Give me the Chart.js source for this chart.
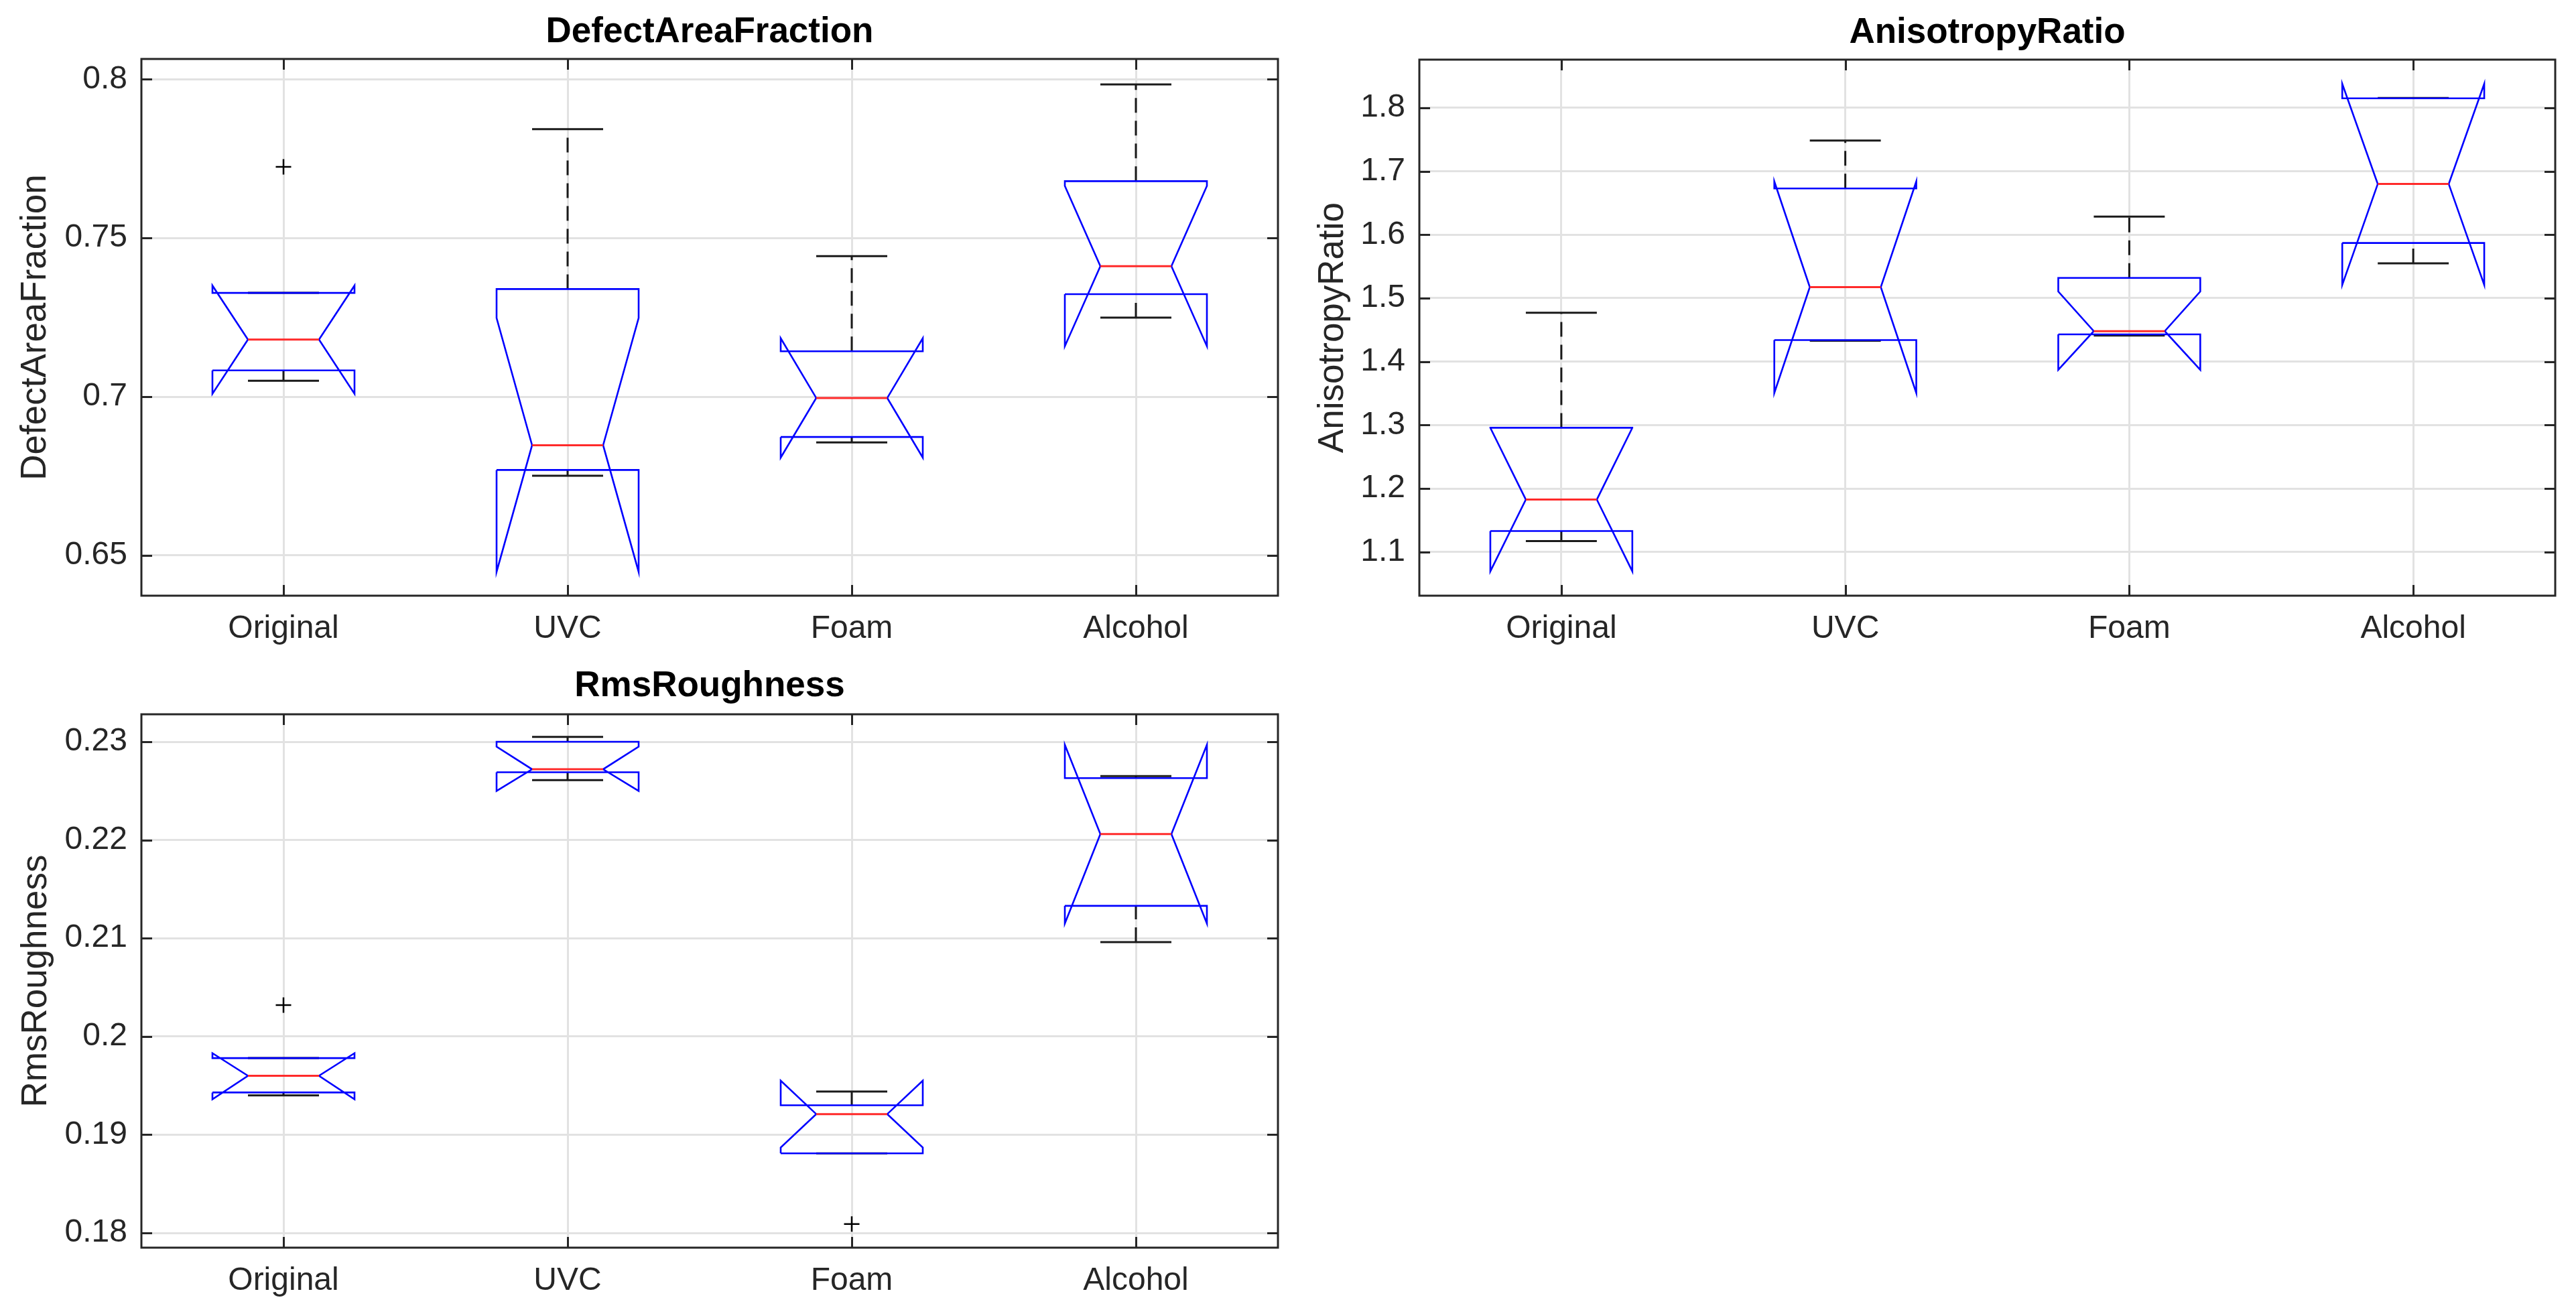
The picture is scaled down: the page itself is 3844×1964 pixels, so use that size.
<!DOCTYPE html>
<html>
<head>
<meta charset="utf-8">
<title>Surface metrics - notched boxplots</title>
<script src="https://cdn.jsdelivr.net/npm/chart.js@4.4.1/dist/chart.umd.min.js"></script>
<style>
    html, body { margin: 0; padding: 0; background: #ffffff; }
    body { width: 3844px; height: 1964px; position: relative; overflow: hidden; }
    .panel { position: absolute; }
    .panel canvas { display: block; }
</style>
</head>
<body>
<div class="panel" style="left:0px; top:0px;"><canvas id="chart-defect" width="1960" height="982"></canvas></div>
<div class="panel" style="left:1930px; top:0px;"><canvas id="chart-aniso" width="1914" height="982"></canvas></div>
<div class="panel" style="left:0px; top:982px;"><canvas id="chart-rms" width="1960" height="982"></canvas></div>

<script>
// boxplots.js

const groups = ["Original", "UVC", "Foam", "Alcohol"];

// DefectAreaFraction
const defectLowerWhisker = [0.7050, 0.6751, 0.6856, 0.7249];
const defectQ1 = [0.7083, 0.6769, 0.6873, 0.7323];
const defectMedian = [0.7180, 0.6847, 0.6996, 0.7411];
const defectQ3 = [0.7327, 0.7339, 0.7143, 0.7679];
const defectUpperWhisker = [0.7327, 0.7843, 0.7443, 0.7984];
const defectNotchLow = [0.7009, 0.6448, 0.6808, 0.7159];
const defectNotchHigh = [0.7350, 0.7248, 0.7184, 0.7664];
const defectOutliers = [[0.7724], [], [], []];
const defectTicks = [0.65, 0.7, 0.75, 0.8];

// AnisotropyRatio
const anisoLowerWhisker = [1.117, 1.433, 1.441, 1.555];
const anisoQ1 = [1.133, 1.434, 1.443, 1.587];
const anisoMedian = [1.1825, 1.5174, 1.448, 1.680];
const anisoQ3 = [1.2957, 1.673, 1.532, 1.815];
const anisoUpperWhisker = [1.477, 1.7484, 1.6286, 1.8155];
const anisoNotchLow = [1.0694, 1.3506, 1.387, 1.521];
const anisoNotchHigh = [1.2956, 1.684, 1.5105, 1.838];
const anisoOutliers = [[], [], [], []];
const anisoTicks = [1.1, 1.2, 1.3, 1.4, 1.5, 1.6, 1.7, 1.8];

// RmsRoughness
const rmsLowerWhisker = [0.1940, 0.2261, 0.1881, 0.2096];
const rmsQ1 = [0.1943, 0.2269, 0.1881, 0.2133];
const rmsMedian = [0.1960, 0.2272, 0.1921, 0.2206];
const rmsQ3 = [0.1978, 0.2300, 0.1930, 0.2263];
const rmsUpperWhisker = [0.1978, 0.2305, 0.1944, 0.2265];
const rmsNotchLow = [0.1936, 0.2250, 0.1887, 0.2115];
const rmsNotchHigh = [0.1983, 0.2295, 0.1955, 0.2297];
const rmsOutliers = [[0.2032], [], [0.1809], []];
const rmsTicks = [0.18, 0.19, 0.2, 0.21, 0.22, 0.23];


const BOX_HALF = 0.25;
const NOTCH_HALF = 0.125;
const TICK_LEN = 16;
const AXIS_COLOR = '#262626';

Chart.defaults.font.family = "'Liberation Sans', Arial, Helvetica, sans-serif";
Chart.defaults.color = AXIS_COLOR;


// MATLAB-like frame with inward tick marks on all four sides
const axesFrame = {
    id: 'axesFrame',
    afterDraw(chart) {
        const ctx = chart.ctx;
        const a = chart.chartArea;
        const x = chart.scales.x;
        const y = chart.scales.y;
        ctx.save();
        ctx.strokeStyle = AXIS_COLOR;
        ctx.lineWidth = 3;
        ctx.beginPath();
        x.ticks.forEach(t => {
            const px = Math.round(x.getPixelForValue(t.value)) + 0.5;
            ctx.moveTo(px, a.bottom);
            ctx.lineTo(px, a.bottom - TICK_LEN);
            ctx.moveTo(px, a.top);
            ctx.lineTo(px, a.top + TICK_LEN);
        });
        y.ticks.forEach(t => {
            const py = Math.round(y.getPixelForValue(t.value)) + 0.5;
            ctx.moveTo(a.left, py);
            ctx.lineTo(a.left + TICK_LEN, py);
            ctx.moveTo(a.right, py);
            ctx.lineTo(a.right - TICK_LEN, py);
        });
        ctx.stroke();
        ctx.strokeRect(a.left, a.top, a.right - a.left, a.bottom - a.top);
        ctx.restore();
    }
};


function buildBoxDatasets(s) {
    const boxPts = [];
    const medianPts = [];
    const whiskerPts = [];
    const capPts = [];
    const outlierPts = [];

    groups.forEach((g, i) => {
        const c = i + 1;
        const L = c - BOX_HALF;
        const R = c + BOX_HALF;
        const l = c - NOTCH_HALF;
        const r = c + NOTCH_HALF;

        // notched box outline, same path order as MATLAB
        boxPts.push(
            {x: L, y: s.q1[i]}, {x: L, y: s.notchLow[i]}, {x: l, y: s.median[i]},
            {x: L, y: s.notchHigh[i]}, {x: L, y: s.q3[i]}, {x: R, y: s.q3[i]},
            {x: R, y: s.notchHigh[i]}, {x: r, y: s.median[i]}, {x: R, y: s.notchLow[i]},
            {x: R, y: s.q1[i]}, {x: L, y: s.q1[i]}, {x: c, y: null}
        );

        medianPts.push({x: l, y: s.median[i]}, {x: r, y: s.median[i]}, {x: c, y: null});

        whiskerPts.push(
            {x: c, y: s.q3[i]}, {x: c, y: s.upper[i]}, {x: c, y: null},
            {x: c, y: s.lower[i]}, {x: c, y: s.q1[i]}, {x: c, y: null}
        );

        capPts.push(
            {x: l, y: s.upper[i]}, {x: r, y: s.upper[i]}, {x: c, y: null},
            {x: l, y: s.lower[i]}, {x: r, y: s.lower[i]}, {x: c, y: null}
        );

        s.outliers[i].forEach(v => outlierPts.push({x: c, y: v}));
    });

    const lineBase = {
        showLine: true,
        spanGaps: false,
        pointRadius: 0,
        pointHitRadius: 0,
        tension: 0,
        fill: false
    };

    return [
        Object.assign({}, lineBase, {
            label: 'Whiskers', data: whiskerPts, borderColor: '#1a1a1a',
            borderWidth: 3, borderDash: [22, 12], order: 4
        }),
        Object.assign({}, lineBase, {
            label: 'Caps', data: capPts, borderColor: '#1a1a1a',
            borderWidth: 3, order: 3
        }),
        Object.assign({}, lineBase, {
            label: 'Box', data: boxPts, borderColor: '#0000ff',
            borderWidth: 2.6, borderJoinStyle: 'miter', order: 2
        }),
        Object.assign({}, lineBase, {
            label: 'Median', data: medianPts, borderColor: '#ff2a2a',
            borderWidth: 3, order: 1
        }),
        {
            label: 'Outliers', data: outlierPts, showLine: false,
            pointStyle: 'cross', pointRadius: 11.5, pointHoverRadius: 11.5,
            borderColor: '#000000', borderWidth: 2.5, order: 0
        }
    ];
}


function makeBoxChart(canvasId, p) {
    const canvas = document.getElementById(canvasId);
    if (!canvas) {
        console.error("Canvas element not found:", canvasId);
        return null;
    }
    const ctx = canvas.getContext("2d");

    return new Chart(ctx, {
        type: 'scatter',
        data: { datasets: buildBoxDatasets(p.stats) },
        plugins: [axesFrame],
        options: {
            responsive: false,
            animation: false,
            devicePixelRatio: 1,
            layout: {
                padding: { left: 0, top: 0, right: p.rightPad, bottom: 0 }
            },
            plugins: {
                legend: { display: false },
                tooltip: { enabled: false },
                title: {
                    display: true,
                    text: p.title,
                    fullSize: false,
                    color: '#000000',
                    font: { size: 53, weight: 'bold', lineHeight: 1.2 },
                    padding: p.titlePad
                }
            },
            scales: {
                x: {
                    type: 'linear',
                    min: 0.5,
                    max: 4.5,
                    afterBuildTicks: scale => {
                        scale.ticks = groups.map((g, i) => ({ value: i + 1 }));
                    },
                    afterFit: scale => { scale.height = p.xAxisHeight; },
                    ticks: {
                        callback: value => groups[Math.round(value) - 1],
                        autoSkip: false,
                        maxRotation: 0,
                        padding: 21,
                        color: AXIS_COLOR,
                        font: { size: 48 }
                    },
                    grid: { color: '#e2e2e2', lineWidth: 3, drawTicks: false },
                    border: { display: false }
                },
                y: {
                    type: 'linear',
                    min: p.yMin,
                    max: p.yMax,
                    afterBuildTicks: scale => {
                        scale.ticks = p.ticks.map(v => ({ value: v }));
                    },
                    afterFit: scale => { scale.width = p.yAxisWidth; },
                    ticks: {
                        callback: value => String(value),
                        padding: 21,
                        color: AXIS_COLOR,
                        font: { size: 48 }
                    },
                    grid: { color: '#e2e2e2', lineWidth: 3, drawTicks: false },
                    border: { display: false },
                    title: {
                        display: true,
                        text: p.title,
                        color: AXIS_COLOR,
                        font: { size: 53, lineHeight: 1.2 },
                        padding: { top: p.yTitlePad, bottom: 0 }
                    }
                }
            }
        }
    });
}


document.addEventListener("DOMContentLoaded", () => {
    window.chartDefect = makeBoxChart("chart-defect", {
        title: 'DefectAreaFraction',
        stats: {
            lower: defectLowerWhisker, q1: defectQ1, median: defectMedian, q3: defectQ3,
            upper: defectUpperWhisker, notchLow: defectNotchLow, notchHigh: defectNotchHigh,
            outliers: defectOutliers
        },
        ticks: defectTicks,
        yMin: 0.6373,
        yMax: 0.8064,
        yAxisWidth: 211,
        rightPad: 53,
        xAxisHeight: 93,
        titlePad: { top: 17, bottom: 7.4 },
        yTitlePad: 22
    });

    window.chartAniso = makeBoxChart("chart-aniso", {
        title: 'AnisotropyRatio',
        stats: {
            lower: anisoLowerWhisker, q1: anisoQ1, median: anisoMedian, q3: anisoQ3,
            upper: anisoUpperWhisker, notchLow: anisoNotchLow, notchHigh: anisoNotchHigh,
            outliers: anisoOutliers
        },
        ticks: anisoTicks,
        yMin: 1.031,
        yMax: 1.876,
        yAxisWidth: 188,
        rightPad: 31,
        xAxisHeight: 93,
        titlePad: { top: 18, bottom: 7.4 },
        yTitlePad: 28
    });

    window.chartRms = makeBoxChart("chart-rms", {
        title: 'RmsRoughness',
        stats: {
            lower: rmsLowerWhisker, q1: rmsQ1, median: rmsMedian, q3: rmsQ3,
            upper: rmsUpperWhisker, notchLow: rmsNotchLow, notchHigh: rmsNotchHigh,
            outliers: rmsOutliers
        },
        ticks: rmsTicks,
        yMin: 0.1785,
        yMax: 0.2328,
        yAxisWidth: 211,
        rightPad: 53,
        xAxisHeight: 102,
        titlePad: { top: 11, bottom: 9.4 },
        yTitlePad: 23
    });
});
</script>
</body>
</html>
